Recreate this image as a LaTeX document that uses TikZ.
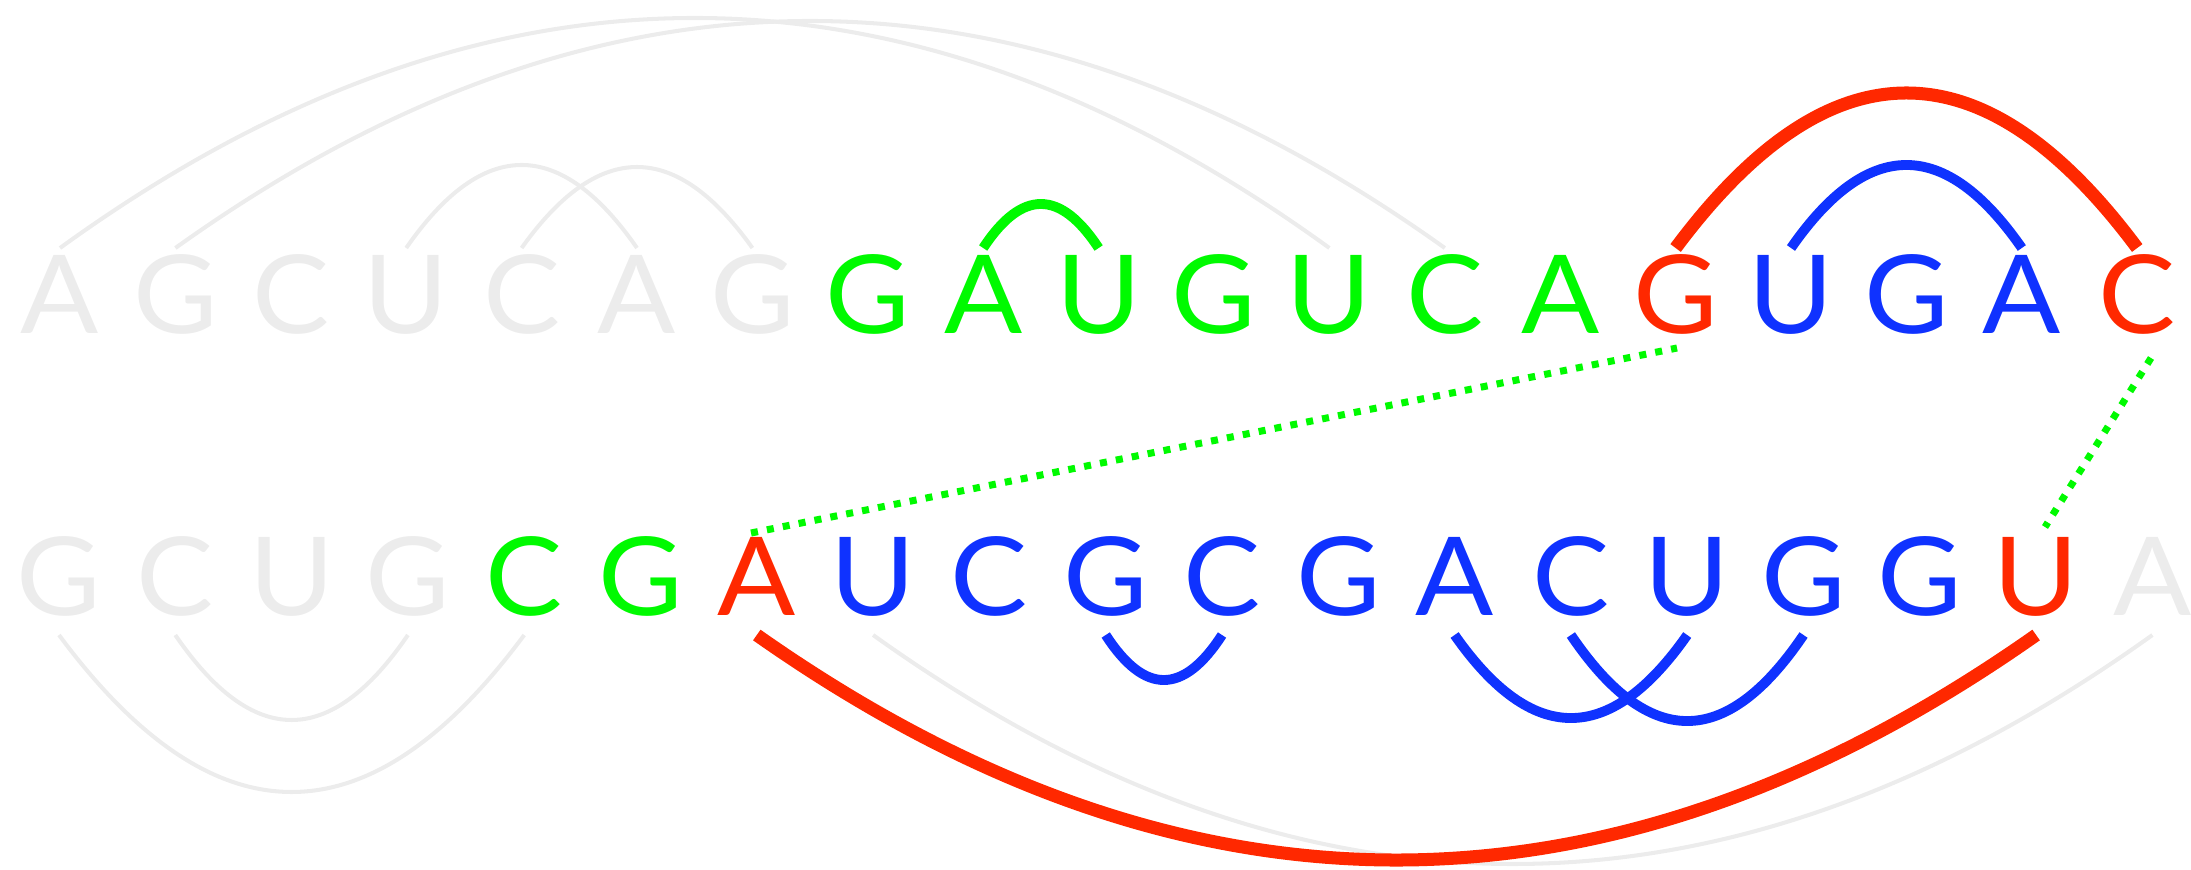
\documentclass[tikz,border=0pt]{standalone}
\usepackage{fontspec}
\setmainfont{Lato}[FakeStretch=1.06]
\definecolor{lg}{RGB}{236,236,236}
\definecolor{gr}{RGB}{0,250,0}
\definecolor{bl}{RGB}{15,50,255}
\definecolor{rd}{RGB}{255,40,0}
\tikzset{
  nt/.style={inner sep=0pt, anchor=base, text height=0.78cm, text depth=0pt,
    font=\fontsize{31}{31}\selectfont},
  greyarc/.style={draw=lg, line width=1.15pt},
  bluearc/.style={draw=bl, line width=2.8pt},
  greenarc/.style={draw=gr, line width=2.8pt},
  redarc/.style={draw=rd, line width=3.7pt},
  pairlink/.style={draw=gr, line width=2pt, dash pattern=on 2pt off 2.6pt}
}
\begin{document}
\begin{tikzpicture}[x=0.01cm,y=-0.01cm]
\useasboundingbox (0,0) rectangle (2191,869);
% upper strand
\foreach \c/\col [count=\i from 0] in {A/lg,G/lg,C/lg,U/lg,C/lg,A/lg,G/lg,
    G/gr,A/gr,U/gr,G/gr,U/gr,C/gr,A/gr,G/rd,U/bl,G/bl,A/bl,C/rd}{
  \node[nt, text=\col] (t\i) at ({60+115.4*\i},333) {\c};
  \coordinate (tp\i) at ({60+115.4*\i},248);
}
% lower strand
\foreach \c/\col [count=\i from 0] in {G/lg,C/lg,U/lg,G/lg,C/gr,G/gr,A/rd,
    U/bl,C/bl,G/bl,C/bl,G/bl,A/bl,C/bl,U/bl,G/bl,G/bl,U/rd,A/lg}{
  \node[nt, text=\col] (b\i) at ({59+116.3*\i},615) {\c};
  \coordinate (bp\i) at ({59+116.3*\i},635);
}
% arcs above the upper strand
\draw[greyarc] (tp0) .. controls +(423.1,-306.7) and +(-423.1,-306.7) .. (tp11);
\draw[greyarc] (tp1) .. controls +(423.1,-302.7) and +(-423.1,-302.7) .. (tp12);
\draw[greyarc] (tp3) .. controls +(76.9,-110.7) and +(-76.9,-110.7) .. (tp5);
\draw[greyarc] (tp4) .. controls +(76.9,-108) and +(-76.9,-108) .. (tp6);
\draw[greenarc] (tp8) .. controls +(38.5,-58.7) and +(-38.5,-58.7) .. (tp9);
\draw[redarc] (tp14) .. controls +(153.9,-206.7) and +(-153.9,-206.7) .. (tp18);
\draw[bluearc] (tp15) .. controls +(76.9,-110.7) and +(-76.9,-110.7) .. (tp17);
% arcs below the lower strand
\draw[greyarc] (bp0) .. controls +(155.1,209.3) and +(-155.1,209.3) .. (bp4);
\draw[greyarc] (bp1) .. controls +(77.5,113.3) and +(-77.5,113.3) .. (bp3);
\draw[greyarc] (bp7) .. controls +(426.4,305.3) and +(-426.4,305.3) .. (bp18);
\draw[redarc] (bp6) .. controls +(426.4,300) and +(-426.4,300) .. (bp17);
\draw[bluearc] (bp9) .. controls +(38.8,60) and +(-38.8,60) .. (bp10);
\draw[bluearc] (bp12) .. controls +(77.5,110.7) and +(-77.5,110.7) .. (bp14);
\draw[bluearc] (bp13) .. controls +(77.5,114.7) and +(-77.5,114.7) .. (bp15);
% links between the strands
\coordinate (l1a) at (751,533);
\coordinate (l1b) at (1677,348);
\coordinate (l2a) at (2151,358);
\coordinate (l2b) at (2045,527);
\draw[pairlink] (l1a) -- (l1b);
\draw[pairlink] (l2a) -- (l2b);
\end{tikzpicture}
\end{document}
